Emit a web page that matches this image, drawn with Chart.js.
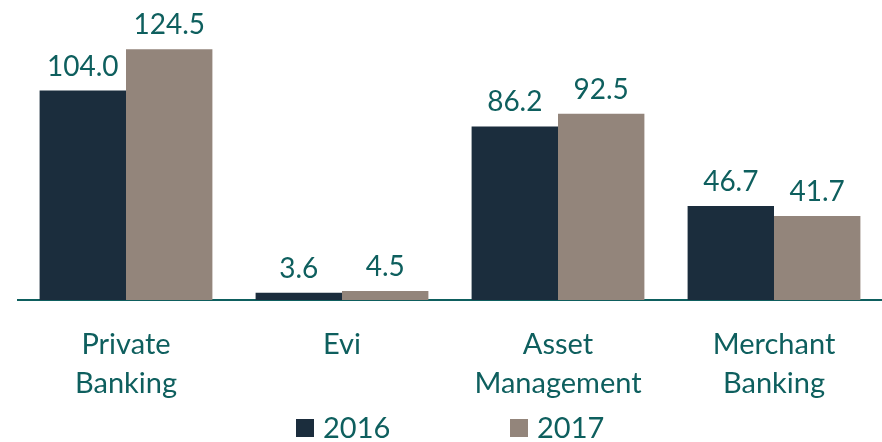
<!DOCTYPE html>
<html>
<head>
<meta charset="utf-8">
<script src="https://cdn.jsdelivr.net/npm/chart.js@4"></script>
<style>
  html, body { margin: 0; padding: 0; background: #fff; }
  #wrap { width: 882px; height: 442px; }
</style>
</head>
<body>
<div id="wrap"><canvas id="revChart"></canvas></div>
<script>
const categories = [['Private', 'Banking'], 'Evi', ['Asset', 'Management'], ['Merchant', 'Banking']];
const years = ['2016', '2017'];
const values2016 = [104.0, 3.6, 86.2, 46.7];
const values2017 = [124.5, 4.5, 92.5, 41.7];

const teal = '#0e5f5e';
const fontFamily = 'Lato, "Noto Sans", sans-serif';

// value labels above each bar
const valueLabels = {
  id: 'valueLabels',
  afterDatasetsDraw(chart) {
    const c = chart.ctx;
    c.save();
    c.fillStyle = teal;
    c.font = '28px ' + fontFamily;
    c.textAlign = 'center';
    c.textBaseline = 'bottom';
    chart.data.datasets.forEach((ds, i) => {
      chart.getDatasetMeta(i).data.forEach((bar, j) => {
        c.fillText(ds.data[j].toFixed(1), bar.x, bar.y - 10);
      });
    });
    c.restore();
  }
};

// legend drawn at the bottom, items spread apart
const bottomLegend = {
  id: 'bottomLegend',
  afterDraw(chart) {
    const c = chart.ctx;
    const xs = [296, 510];
    const y = 428;
    c.save();
    c.font = '29px ' + fontFamily;
    c.textBaseline = 'middle';
    c.textAlign = 'left';
    chart.data.datasets.forEach((ds, i) => {
      c.fillStyle = ds.backgroundColor;
      c.fillRect(xs[i], y - 9, 18, 18);
      c.fillStyle = teal;
      c.fillText(ds.label, xs[i] + 27, y + 1);
    });
    c.restore();
  }
};

new Chart(document.getElementById('revChart'), {
  type: 'bar',
  data: {
    labels: categories,
    datasets: [
      { label: years[0], data: values2016, backgroundColor: '#1b2d3d' },
      { label: years[1], data: values2017, backgroundColor: '#93857b' }
    ]
  },
  options: {
    responsive: true,
    maintainAspectRatio: false,
    animation: false,
    layout: { padding: { left: 18, right: 0, top: 0, bottom: 14 } },
    datasets: { bar: { categoryPercentage: 0.8, barPercentage: 1.0 } },
    plugins: {
      legend: { display: false },
      tooltip: { enabled: false }
    },
    scales: {
      x: {
        grid: { display: false, drawTicks: false },
        border: { display: true, color: teal, width: 2 },
        ticks: {
          color: teal,
          padding: 25,
          maxRotation: 0,
          font: { family: fontFamily, size: 29, lineHeight: 1.345 }
        }
      },
      y: {
        display: false,
        min: 0,
        max: 149
      }
    }
  },
  plugins: [valueLabels, bottomLegend]
});
</script>
</body>
</html>
